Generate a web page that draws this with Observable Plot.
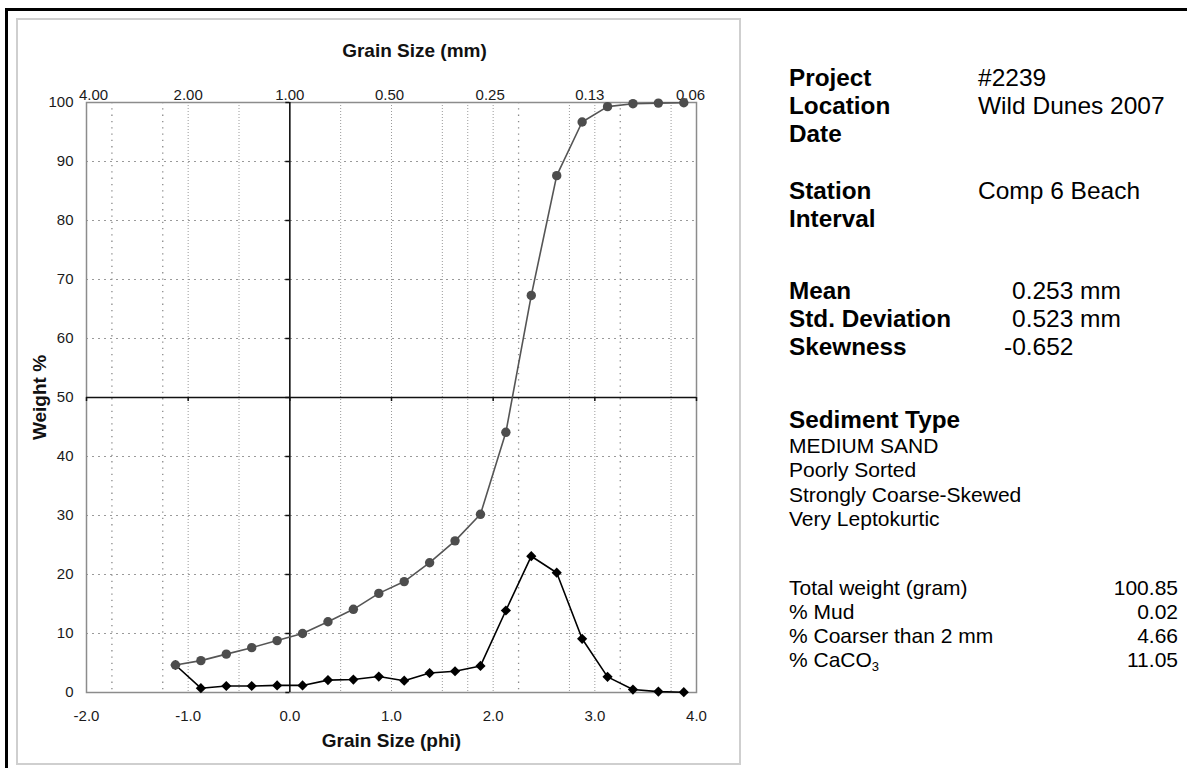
<!DOCTYPE html>
<html>
<head>
<meta charset="utf-8">
<script src="https://cdn.jsdelivr.net/npm/d3@7"></script>
<script src="https://cdn.jsdelivr.net/npm/@observablehq/plot@0.6"></script>
<style>
  html, body { margin: 0; padding: 0; background: #fff; width: 1187px; height: 768px; overflow: hidden; }
  body { font-family: "Liberation Sans", Arial, sans-serif; color: #000; position: relative; }
  #outer { position: absolute; left: 5px; top: 8px; width: 1300px; height: 900px; border-top: 3px solid #000; border-left: 3px solid #000; }
  #box { position: absolute; left: 16px; top: 18px; width: 721px; height: 743px; border: 2px solid #cfcfcf; }
  #chart { position: absolute; left: 17px; top: 19px; }
  .t { position: absolute; white-space: nowrap; }
  .b24 { font-weight: bold; font-size: 24.3px; line-height: 28px; }
  .r24 { font-size: 24.5px; line-height: 28px; }
  .r21 { font-size: 21px; line-height: 24.5px; }
  .r21b { font-size: 21px; line-height: 24px; }
  sub { font-size: 13px; line-height: 0; vertical-align: -4px; }
</style>
</head>
<body>
<div id="outer"></div>
<div id="box"></div>
<div id="chart"></div>

<div class="t b24" style="left:789px; top:63.7px">Project<br>Location<br>Date</div>
<div class="t r24" style="left:978px; top:63.7px">#2239<br>Wild Dunes 2007</div>

<div class="t b24" style="left:789px; top:176.7px">Station<br>Interval</div>
<div class="t r24" style="left:978px; top:176.7px">Comp 6 Beach</div>

<div class="t b24" style="left:789px; top:276.7px">Mean<br>Std. Deviation<br>Skewness</div>
<div class="t r24" style="left:1012px; top:276.7px">0.253 mm<br>0.523 mm</div>
<div class="t r24" style="left:1004px; top:332.7px">-0.652</div>

<div class="t b24" style="left:789px; top:405.7px">Sediment Type</div>
<div class="t r21" style="left:789px; top:433.5px">MEDIUM SAND<br>Poorly Sorted<br>Strongly Coarse-Skewed<br>Very Leptokurtic</div>

<div class="t r21b" style="left:789px; top:575.7px">Total weight (gram)<br>% Mud<br>% Coarser than 2 mm<br>% CaCO<sub>3</sub></div>
<div class="t r21b" style="right:9px; top:575.7px; text-align:right">100.85<br>0.02<br>4.66<br>11.05</div>

<script>
// ---- data ----
const phi = [-1.125, -0.875, -0.625, -0.375, -0.125, 0.125, 0.375, 0.625, 0.875, 1.125, 1.375,
             1.625, 1.875, 2.125, 2.375, 2.625, 2.875, 3.125, 3.375, 3.625, 3.875];
const cumulative = [4.66, 5.4, 6.5, 7.6, 8.8, 10.0, 12.0, 14.1, 16.8, 18.8, 22.0,
                    25.7, 30.2, 44.1, 67.3, 87.6, 96.7, 99.3, 99.8, 99.9, 99.95];
const frequency = [4.66, 0.73, 1.1, 1.1, 1.2, 1.2, 2.1, 2.2, 2.7, 2.0, 3.3,
                   3.6, 4.5, 13.9, 23.1, 20.3, 9.1, 2.65, 0.5, 0.15, 0.05];
const phiTicks = [-2, -1, 0, 1, 2, 3, 4];
const mmLabels = ["4.00", "2.00", "1.00", "0.50", "0.25", "0.13", "0.06"];
const yTicks = [0, 10, 20, 30, 40, 50, 60, 70, 80, 90, 100];
const gridY = [10, 20, 30, 40, 60, 70, 80, 90];
const gridPhiFine = [-1, 1, 2, 3, 1.75, -0.5, 0.5, 1.5, 2.75, 3.75];
const gridPhiCoarse = [-1.75, -1.25, 2.25, 3.25];
const xDomain = [-2, 4];
const yDomain = [0, 100];

const rows = phi.map((p, i) => ({phi: p, cum: cumulative[i], freq: frequency[i]}));

const W = 722, H = 744, ML = 69, MT = 83, MR = 43, MB = 71;
const plotW = W - ML - MR, plotH = H - MT - MB;
const dxZero = (0 - xDomain[0]) / (xDomain[1] - xDomain[0]) * plotW;   // shift of y-axis ticks to phi = 0
const dyFifty = -(50 - yDomain[0]) / (yDomain[1] - yDomain[0]) * plotH; // shift of x-axis ticks to 50 %
const mm = d => mmLabels[phiTicks.indexOf(d)];
const blank = () => "";
const FS = 15;

const topAxis = (ticks, dx) => Plot.axisX({anchor: "top", ticks, tickFormat: mm, tickSize: 0, tickPadding: 3,
  dx, fill: "#1a1a1a", fontSize: FS, label: null});

const chart = Plot.plot({
  width: W, height: H,
  marginLeft: ML, marginTop: MT, marginRight: MR, marginBottom: MB,
  style: {fontFamily: "'Liberation Sans', Arial, sans-serif", fontSize: "15px", background: "transparent", color: "#1a1a1a"},
  x: {domain: xDomain},
  y: {domain: yDomain},
  marks: [
    Plot.ruleY(gridY, {stroke: "#9a9a9a", strokeWidth: 1, strokeDasharray: "2,4"}),
    Plot.ruleX(gridPhiFine, {stroke: "#9a9a9a", strokeWidth: 1, strokeDasharray: "1,2"}),
    Plot.ruleX(gridPhiCoarse, {stroke: "#8a8a8a", strokeWidth: 1.3, strokeDasharray: "1.3,5"}),
    Plot.frame({stroke: "#8c8c8c", strokeWidth: 1.5}),
    Plot.ruleY([50], {stroke: "#111", strokeWidth: 1.6}),
    Plot.ruleX([0], {stroke: "#111", strokeWidth: 1.6}),
    // tick marks on crossing axes (no labels)
    Plot.axisY({anchor: "left", ticks: yTicks, tickSize: 4, tickFormat: blank, dx: dxZero, stroke: "#111", strokeWidth: 1.5, label: null}),
    Plot.axisX({anchor: "bottom", ticks: phiTicks, tickSize: 4, tickFormat: blank, dy: dyFifty, stroke: "#111", strokeWidth: 1.5, label: null}),
    // labelled axes
    Plot.axisY({anchor: "left", ticks: yTicks, tickSize: 0, tickPadding: 13, tickFormat: d => String(d), fill: "#1a1a1a", fontSize: FS, label: null}),
    Plot.axisX({anchor: "bottom", ticks: phiTicks, tickSize: 0, tickPadding: 18, tickFormat: d => d.toFixed(1), fill: "#1a1a1a", fontSize: FS, label: null}),
    topAxis([-2], 7),
    topAxis([-1, 0], 0),
    topAxis([1], -2),
    topAxis([2], -3),
    topAxis([3], -5),
    topAxis([4], -6),
    // titles
    Plot.text(["Grain Size (mm)"], {frameAnchor: "top", dy: -52, dx: 23, fontSize: 19, fontWeight: "bold", fill: "#111", lineAnchor: "middle"}),
    Plot.text(["Grain Size (phi)"], {frameAnchor: "bottom", dy: 48, fontSize: 19, fontWeight: "bold", fill: "#111", lineAnchor: "middle"}),
    Plot.text(["Weight %"], {frameAnchor: "left", dx: -46.5, rotate: -90, fontSize: 19, fontWeight: "bold", fill: "#111", lineAnchor: "middle", textAnchor: "middle"}),
    // data
    Plot.line(rows, {x: "phi", y: "freq", stroke: "#000", strokeWidth: 1.6}),
    Plot.dot(rows, {x: "phi", y: "freq", symbol: "diamond2", r: 4.6, fill: "#000", stroke: "none"}),
    Plot.line(rows, {x: "phi", y: "cum", stroke: "#555", strokeWidth: 1.6}),
    Plot.dot(rows, {x: "phi", y: "cum", r: 4.7, fill: "#4d4d4d", stroke: "none"})
  ]
});
document.getElementById("chart").appendChild(chart);
</script>
</body>
</html>
